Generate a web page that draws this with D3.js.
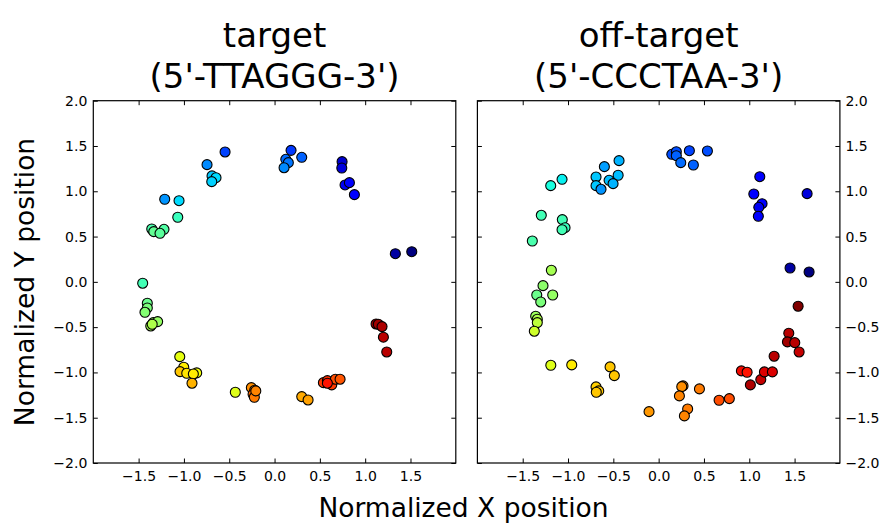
<!DOCTYPE html>
<html>
<head>
<meta charset="utf-8">
<script src="https://cdn.jsdelivr.net/npm/d3@7"></script>
<style>
  html, body { margin: 0; padding: 0; background: #fff; }
  svg { display: block; font-family: "DejaVu Sans", sans-serif; }
</style>
</head>
<body>
<svg id="chart" width="882" height="523"></svg>
<script>
// ---------- data ----------
const panelTitles = [["target", "(5'-TTAGGG-3')"], ["off-target", "(5'-CCCTAA-3')"]];
const xTickValues = [-1.5, -1.0, -0.5, 0.0, 0.5, 1.0, 1.5];
const yTickValues = [-2.0, -1.5, -1.0, -0.5, 0.0, 0.5, 1.0, 1.5, 2.0];
const xLabel = "Normalized X position";
const yLabel = "Normalized Y position";

// target panel: x, y, colour value (jet colormap, 0..1)
const targetX = [1.333, 1.514, 0.745, 0.742, 0.778, 0.826, 0.881, 0.182, 0.300, 0.124, 0.152, 0.105,
  -0.546, -0.745, -0.690, -0.646, -0.693, -1.212, -1.054, -1.068, -1.355, -1.333, -1.220, -1.264,
  -1.455, -1.404, -1.404, -1.430, -1.366, -1.338, -1.290, -1.350, -1.046, -1.002, -1.043, -0.969,
  -0.859, -0.896, -0.911, -0.433, -0.256, -0.219, -0.237, -0.223, -0.207, 0.300, 0.370,
  0.539, 0.583, 0.631, 0.671, 0.723, 0.583, 1.120, 1.145, 1.186, 1.201, 1.238];
const targetY = [0.311, 0.333, 1.327, 1.257, 1.070, 1.095, 0.963, 1.452, 1.375, 1.353, 1.316, 1.260,
  1.434, 1.294, 1.170, 1.150, 1.106, 0.912, 0.896, 0.713, 0.584, 0.554, 0.580, 0.536,
  -0.015, -0.236, -0.288, -0.336, -0.487, -0.450, -0.439, -0.468, -0.826, -0.943, -0.991, -1.009,
  -1.005, -1.017, -1.119, -1.219, -1.168, -1.196, -1.241, -1.274, -1.204, -1.267, -1.304,
  -1.113, -1.091, -1.138, -1.075, -1.075, -1.119, -0.465, -0.468, -0.494, -0.611, -0.774];
const targetC = [0.03, 0.00, 0.07, 0.08, 0.10, 0.11, 0.12, 0.18, 0.22, 0.23, 0.24, 0.26,
  0.19, 0.26, 0.32, 0.34, 0.33, 0.27, 0.34, 0.42, 0.44, 0.47, 0.45, 0.46,
  0.43, 0.48, 0.50, 0.51, 0.55, 0.54, 0.53, 0.56, 0.63, 0.66, 0.70, 0.67,
  0.64, 0.66, 0.72, 0.62, 0.76, 0.77, 0.80, 0.78, 0.77, 0.73, 0.74,
  0.85, 0.86, 0.85, 0.83, 0.82, 0.89, 0.98, 0.97, 0.96, 0.95, 0.95];

// off-target panel
const offX = [1.450, 1.660, 1.638, 1.116, 1.050, 1.141, 1.105, 1.100,
  0.145, 0.195, 0.195, 0.244, 0.339, 0.383, 0.538,
  -0.437, -0.599, -0.691, -0.547, -0.447, -0.503, -0.691, -0.636,
  -1.066, -1.191, -1.295, -1.063, -1.033, -1.066, -1.394, -1.184,
  -1.276, -1.345, -1.169, -1.301, -1.357, -1.339, -1.339, -1.372,
  -1.190, -0.959, -0.536, -0.489, -0.691, -0.661, -0.688, -0.106,
  0.269, 0.255, 0.229, 0.450, 0.320, 0.284, 0.667, 0.780,
  0.913, 0.976, 1.012, 1.127, 1.167, 1.255, 1.274, 1.436, 1.421, 1.502, 1.550, 1.539];
const offY = [0.153, 0.109, 0.974, 1.161, 0.970, 0.863, 0.823, 0.724,
  1.408, 1.437, 1.393, 1.316, 1.448, 1.290, 1.445,
  1.338, 1.272, 1.158, 1.121, 1.177, 1.084, 1.062, 1.022,
  1.132, 1.062, 0.735, 0.687, 0.598, 0.576, 0.451, 0.128,
  -0.042, -0.145, -0.145, -0.222, -0.380, -0.413, -0.450, -0.545,
  -0.921, -0.917, -0.939, -1.035, -1.160, -1.204, -1.219, -1.433,
  -1.149, -1.157, -1.259, -1.182, -1.403, -1.480, -1.307, -1.289,
  -0.983, -0.998, -1.138, -1.079, -0.994, -0.994, -0.821, -0.567, -0.663, -0.671, -0.774, -0.269];
const offC = [0.03, 0.00, 0.08, 0.12, 0.12, 0.12, 0.10, 0.12,
  0.20, 0.20, 0.22, 0.23, 0.19, 0.22, 0.20,
  0.30, 0.28, 0.32, 0.31, 0.31, 0.30, 0.32, 0.27,
  0.36, 0.38, 0.43, 0.43, 0.42, 0.43, 0.44, 0.55,
  0.52, 0.48, 0.53, 0.50, 0.54, 0.56, 0.58, 0.60,
  0.62, 0.66, 0.70, 0.70, 0.69, 0.70, 0.70, 0.75,
  0.77, 0.76, 0.77, 0.78, 0.78, 0.77, 0.83, 0.83,
  0.90, 0.89, 0.96, 0.94, 0.92, 0.92, 0.95, 0.95, 0.97, 0.95, 0.94, 1.00];

// ---------- jet colormap (matplotlib) ----------
const jr = d3.scaleLinear().domain([0, 0.35, 0.66, 0.89, 1]).range([0, 0, 1, 1, 0.5]).clamp(true);
const jg = d3.scaleLinear().domain([0, 0.125, 0.375, 0.64, 0.91, 1]).range([0, 0, 1, 1, 0, 0]).clamp(true);
const jb = d3.scaleLinear().domain([0, 0.11, 0.34, 0.65, 1]).range([0.5, 1, 1, 0, 0]).clamp(true);
const jet = c => d3.rgb(255 * jr(c), 255 * jg(c), 255 * jb(c)).toString();

// ---------- layout ----------
const svg = d3.select("#chart");
const plotW = 362.5, plotH = 362.3;
const plotTop = 100.7;
const lefts = [93.3, 477.4];
const tickLen = 4.5;
const fmt = d => d3.format(".1f")(d).replace("-", "\u2212");

const panels = [
  { x: targetX, y: targetY, c: targetC, yAxisSide: "left" },
  { x: offX, y: offY, c: offC, yAxisSide: "right" }
];

panels.forEach((p, i) => {
  const x = d3.scaleLinear().domain([-2, 2]).range([0, plotW]);
  const y = d3.scaleLinear().domain([-2, 2]).range([plotH, 0]);
  const g = svg.append("g").attr("transform", `translate(${lefts[i]},${plotTop})`);

  // ticks inward on all four sides
  const axB = d3.axisBottom(x).tickValues(xTickValues).tickSizeInner(-tickLen).tickSizeOuter(0).tickPadding(8).tickFormat(fmt);
  const axT = d3.axisTop(x).tickValues(xTickValues).tickSizeInner(-tickLen).tickSizeOuter(0).tickFormat("");
  const axL = d3.axisLeft(y).tickValues(yTickValues).tickSizeInner(-tickLen).tickSizeOuter(0).tickPadding(6).tickFormat(fmt);
  const axR = d3.axisRight(y).tickValues(yTickValues).tickSizeInner(-tickLen).tickSizeOuter(0).tickPadding(5.5).tickFormat(fmt);

  const gb = g.append("g").attr("transform", `translate(0,${plotH})`).call(axB);
  const gt = g.append("g").call(axT);
  const gl = g.append("g").call(axL);
  const gr = g.append("g").attr("transform", `translate(${plotW},0)`).call(axR);
  if (p.yAxisSide === "left") gr.selectAll("text").remove();
  else gl.selectAll("text").remove();

  [gb, gt, gl, gr].forEach(a => {
    a.select(".domain").remove();
    a.selectAll("line").attr("stroke", "#000").attr("stroke-width", 1);
    a.selectAll("text").attr("font-family", "DejaVu Sans").attr("font-size", 14).attr("fill", "#000");
  });

  // frame
  g.append("rect").attr("x", 0).attr("y", 0).attr("width", plotW).attr("height", plotH)
    .attr("fill", "none").attr("stroke", "#000").attr("stroke-width", 1.2);

  // points
  const idx = d3.range(p.x.length);
  g.append("g").selectAll("circle").data(idx).join("circle")
    .attr("cx", j => x(p.x[j]))
    .attr("cy", j => y(p.y[j]))
    .attr("r", 5)
    .attr("fill", j => jet(p.c[j]))
    .attr("stroke", "#000")
    .attr("stroke-width", 1.1);

  // title
  const cx = lefts[i] + plotW / 2;
  const t = svg.append("text").attr("x", cx).attr("text-anchor", "middle")
    .attr("font-family", "DejaVu Sans").attr("font-size", 34).attr("fill", "#000");
  t.append("tspan").attr("x", cx).attr("y", 47).text(panelTitles[i][0]);
  t.append("tspan").attr("x", cx).attr("y", 88).text(panelTitles[i][1]);
});

// axis labels
svg.append("text").attr("x", 463.5).attr("y", 517).attr("text-anchor", "middle")
  .attr("font-family", "DejaVu Sans").attr("font-size", 26.5).attr("fill", "#000").text(xLabel);
svg.append("text").attr("transform", "translate(34,282) rotate(-90)").attr("text-anchor", "middle")
  .attr("font-family", "DejaVu Sans").attr("font-size", 26.5).attr("fill", "#000").text(yLabel);
</script>
</body>
</html>
